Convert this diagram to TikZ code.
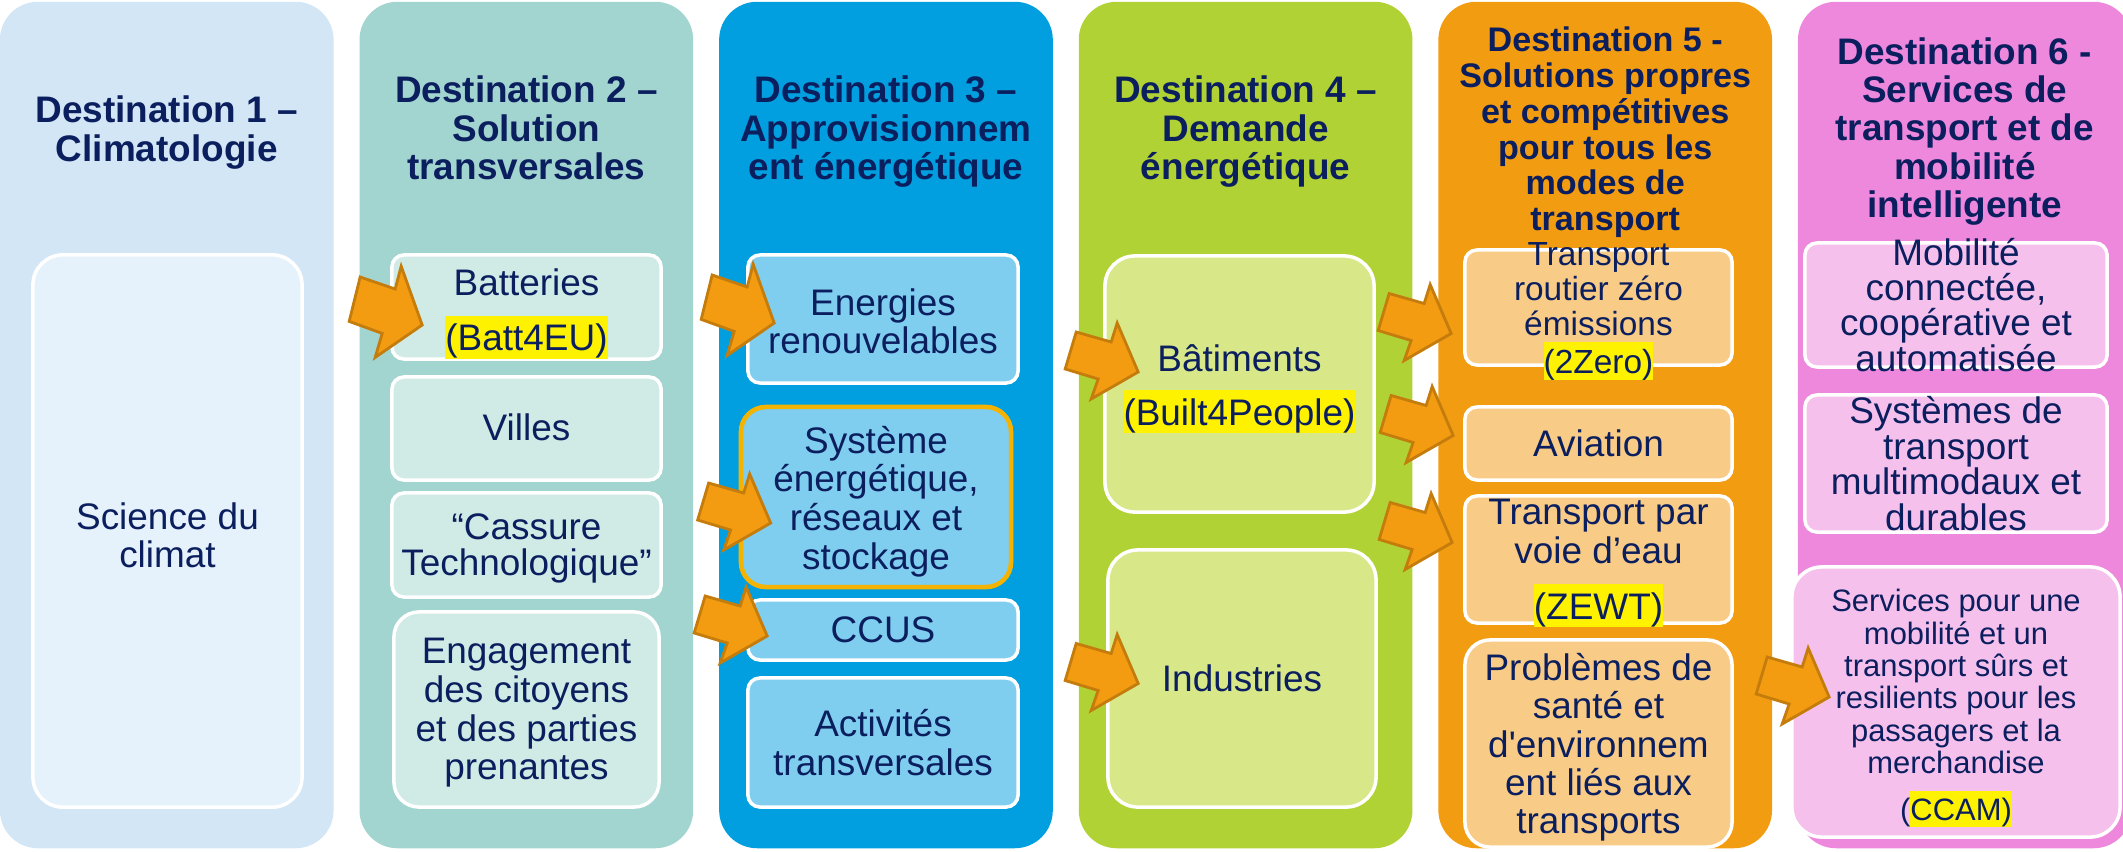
\documentclass[tikz,border=0pt]{standalone}
\usepackage{fontspec}
\setmainfont{Liberation Sans}
\usetikzlibrary{positioning,calc}

\definecolor{ink}{HTML}{0B1E5E}
\definecolor{bgA}{HTML}{D2E6F6}\definecolor{inA}{HTML}{E5F1FB}
\definecolor{bgB}{HTML}{A2D5D0}\definecolor{inB}{HTML}{D0EAE6}
\definecolor{bgC}{HTML}{019FDF}\definecolor{inC}{HTML}{7FCDEF}
\definecolor{bgD}{HTML}{B1D235}\definecolor{inD}{HTML}{D8E888}
\definecolor{bgE}{HTML}{F29C12}\definecolor{inE}{HTML}{F8CB86}
\definecolor{bgF}{HTML}{EE88DD}\definecolor{inF}{HTML}{F5C0EC}
\definecolor{gold}{HTML}{F5B301}
\definecolor{arrowfill}{HTML}{F39C12}
\definecolor{arrowline}{HTML}{C47D0C}

\newcommand\hl[1]{{\setlength{\fboxsep}{0pt}\colorbox{yellow}{\rule[-0.21em]{0pt}{1.16em}#1}}}
\newcommand\fs[2]{\fontsize{#1}{#2}\selectfont\lineskiplimit=-20pt\relax}

\begin{document}
\begin{tikzpicture}[x=0.01cm,y=-0.01cm,node distance=0.245cm,
    dest/.style={rounded corners=0.38cm,minimum width=3.335cm,minimum height=8.46cm,inner sep=0pt},
    box/.style={draw=white,line width=1pt,rounded corners=0.12cm,inner sep=0pt},
    head/.style={anchor=north,align=center,inner sep=0pt,yshift=-0.03cm,text=ink,font=\bfseries\fs{10.5}{11}},
    lbl/.style={anchor=north,align=center,inner sep=0pt,yshift=-0.045cm,text=ink,font=\fs{10.5}{10.8}}]
    \tikzstyle{pfeil}=[fill=arrowfill,draw=arrowline,line width=0.8pt]
    \tikzset{bigarrow/.pic={\draw[pfeil] (-62,-40) -- (-27,-30) -- (-21,-49) -- (0,0)
        -- (-47,27) -- (-40,7) -- (-73,-3) -- cycle;}}

    \useasboundingbox (0,0) rectangle (2123,851);

    \node[dest,fill=bgA] (d1) at (166.75,425) {};
    \node[dest,fill=bgB,right=of d1] (d2) {};
    \node[dest,fill=bgC,right=of d2] (d3) {};
    \node[dest,fill=bgD,right=of d3] (d4) {};
    \node[dest,fill=bgE,right=of d4] (d5) {};
    \node[dest,fill=bgF,right=of d5] (d6) {};

    \node[head] (h1) at ([yshift=-0.91cm]d1.north) {Destination 1 –\\Climatologie};
    \node[head] (h2) at ([yshift=-0.71cm]d2.north) {Destination 2 –\\Solution\\transversales};
    \node[head] (h3) at ([yshift=-0.71cm]d3.north) {Destination 3 –\\Approvisionnem\\ent énergétique};
    \node[head] (h4) at ([yshift=-0.71cm]d4.north) {Destination 4 –\\Demande\\énergétique};
    \node[head,font=\bfseries\fs{9.7}{10.15}] (h5) at ([yshift=-0.225cm]d5.north)
        {Destination 5 -\\Solutions propres\\et compétitives\\pour tous les\\modes de\\transport};
    \node[head,font=\bfseries\fs{10.5}{10.85}] (h6) at ([yshift=-0.33cm]d6.north)
        {Destination 6 -\\Services de\\transport et de\\mobilité\\intelligente};

    \node[box,fill=inA,rounded corners=0.3cm,minimum width=2.69cm,minimum height=5.52cm] (sci) at (167.5,531) {};
    \node[box,fill=inB,minimum width=2.69cm,minimum height=1.04cm] (bat) at (526.5,307) {};
    \node[box,fill=inB,minimum width=2.69cm,minimum height=1.03cm] (vil) at (526.5,428.5) {};
    \node[box,fill=inB,minimum width=2.69cm,minimum height=1.04cm] (cas) at (526.5,545) {};
    \node[box,fill=inB,rounded corners=0.25cm,minimum width=2.65cm,minimum height=1.95cm] (eng) at (526.5,709.5) {};
    \node[box,fill=inC,minimum width=2.7cm,minimum height=1.28cm] (ene) at (883,319) {};
    \node[box,fill=inC,draw=gold,line width=1.3pt,rounded corners=0.25cm,minimum width=2.7cm,minimum height=1.8cm] (sys) at (876,497) {};
    \node[box,fill=inC,minimum width=2.7cm,minimum height=0.6cm] (ccus) at (883,630) {};
    \node[box,fill=inC,minimum width=2.7cm,minimum height=1.29cm] (act) at (883,742.5) {};
    \node[box,fill=inD,rounded corners=0.3cm,minimum width=2.69cm,minimum height=2.56cm] (bati) at (1239.5,384) {};
    \node[box,fill=inD,rounded corners=0.3cm,minimum width=2.68cm,minimum height=2.57cm] (ind) at (1242,678.5) {};
    \node[box,fill=inE,minimum width=2.67cm,minimum height=1.15cm] (zer) at (1598.5,307.5) {};
    \node[box,fill=inE,minimum width=2.67cm,minimum height=0.73cm] (avi) at (1598.5,443.5) {};
    \node[box,fill=inE,minimum width=2.67cm,minimum height=1.27cm] (wat) at (1598.5,559.5) {};
    \node[box,fill=inE,rounded corners=0.25cm,minimum width=2.67cm,minimum height=2.07cm] (pro) at (1598.5,743.5) {};
    \node[box,fill=inF,minimum width=3.02cm,minimum height=1.24cm] (mob) at (1956,305) {};
    \node[box,fill=inF,minimum width=3.02cm,minimum height=1.37cm] (sy6) at (1956,463.5) {};
    \node[box,fill=inF,rounded corners=0.3cm,minimum width=3.28cm,minimum height=2.7cm] (cca) at (1956,702) {};

    \node[lbl] (sciT) at ([yshift=-2.44cm]sci.north) {Science du\\climat};
    \node[lbl] (batT) at ([yshift=-0.10cm]bat.north) {Batteries\\[5pt]\hl{(Batt4EU)}};
    \node[lbl] (vilT) at ([yshift=-0.33cm]vil.north) {Villes};
    \node[lbl,font=\fs{10.5}{10.4}] (casT) at ([yshift=-0.17cm]cas.north) {“Cassure\\Technologique”};
    \node[lbl,font=\fs{10.5}{11}] (engT) at ([yshift=-0.23cm]eng.north) {Engagement\\des citoyens\\et des parties\\prenantes};
    \node[lbl] (eneT) at ([yshift=-0.30cm]ene.north) {Energies\\renouvelables};
    \node[lbl,font=\fs{10.5}{11}] (sysT) at ([yshift=-0.16cm]sys.north) {Système\\énergétique,\\réseaux et\\stockage};
    \node[lbl] (ccuT) at ([yshift=-0.13cm]ccus.north) {CCUS};
    \node[lbl,font=\fs{10.5}{11}] (actT) at ([yshift=-0.28cm]act.north) {Activités\\transversales};
    \node[lbl] (batiT) at ([yshift=-0.85cm]bati.north) {Bâtiments\\[4.5pt]\hl{(Built4People)}};
    \node[lbl] (indT) at ([yshift=-1.11cm]ind.north) {Industries};
    \node[lbl,font=\fs{9.5}{9.9}] (zerT) at ([yshift=0.11cm]zer.north) {Transport\\routier zéro\\émissions\\[1pt]\hl{(2Zero)}};
    \node[lbl] (aviT) at ([yshift=-0.19cm]avi.north) {Aviation};
    \node[lbl,font=\fs{10.5}{11}] (watT) at (wat.north) {Transport par\\voie d’eau\\[4.8pt]\hl{(ZEWT)}};
    \node[lbl,font=\fs{10.5}{10.9}] (proT) at ([yshift=-0.10cm]pro.north) {Problèmes de\\santé et\\d\textquotesingle environnem\\ent liés aux\\transports};
    \node[lbl,font=\fs{10.5}{10}] (mobT) at ([yshift=0.08cm]mob.north) {Mobilité\\connectée,\\coopérative et\\automatisée};
    \node[lbl,font=\fs{10.5}{10.1}] (sy6T) at ([yshift=0.02cm]sy6.north) {Systèmes de\\transport\\multimodaux et\\durables};
    \node[lbl,font=\fs{8.8}{9.2}] (ccaT) at ([yshift=-0.19cm]cca.north) {Services pour une\\mobilité et un\\transport sûrs et\\resilients pour les\\passagers et la\\merchandise\\[4.1pt](\hl{CCAM)}};

    \pic[yscale=1.2] at ([xshift=0.32cm,yshift=-0.18cm]bat.west) {bigarrow};
    \pic[yscale=1.2] at ([xshift=0.28cm,yshift=-0.04cm]ene.west) {bigarrow};
    \pic at ([xshift=0.32cm,yshift=-0.26cm]sys.west) {bigarrow};
    \pic at ([xshift=0.21cm,yshift=-0.06cm]ccus.west) {bigarrow};
    \pic at ([xshift=0.35cm,yshift=0.12cm]bati.west) {bigarrow};
    \pic at ([xshift=0.32cm,yshift=-0.05cm]ind.west) {bigarrow};
    \pic at ([xshift=-0.12cm,yshift=-0.26cm]zer.west) {bigarrow};
    \pic at ([xshift=-0.10cm,yshift=0.08cm]avi.west) {bigarrow};
    \pic at ([xshift=-0.11cm,yshift=0.17cm]wat.west) {bigarrow};
    \pic at ([xshift=0.39cm,yshift=0.05cm]cca.west) {bigarrow};

\end{tikzpicture}
\end{document}
